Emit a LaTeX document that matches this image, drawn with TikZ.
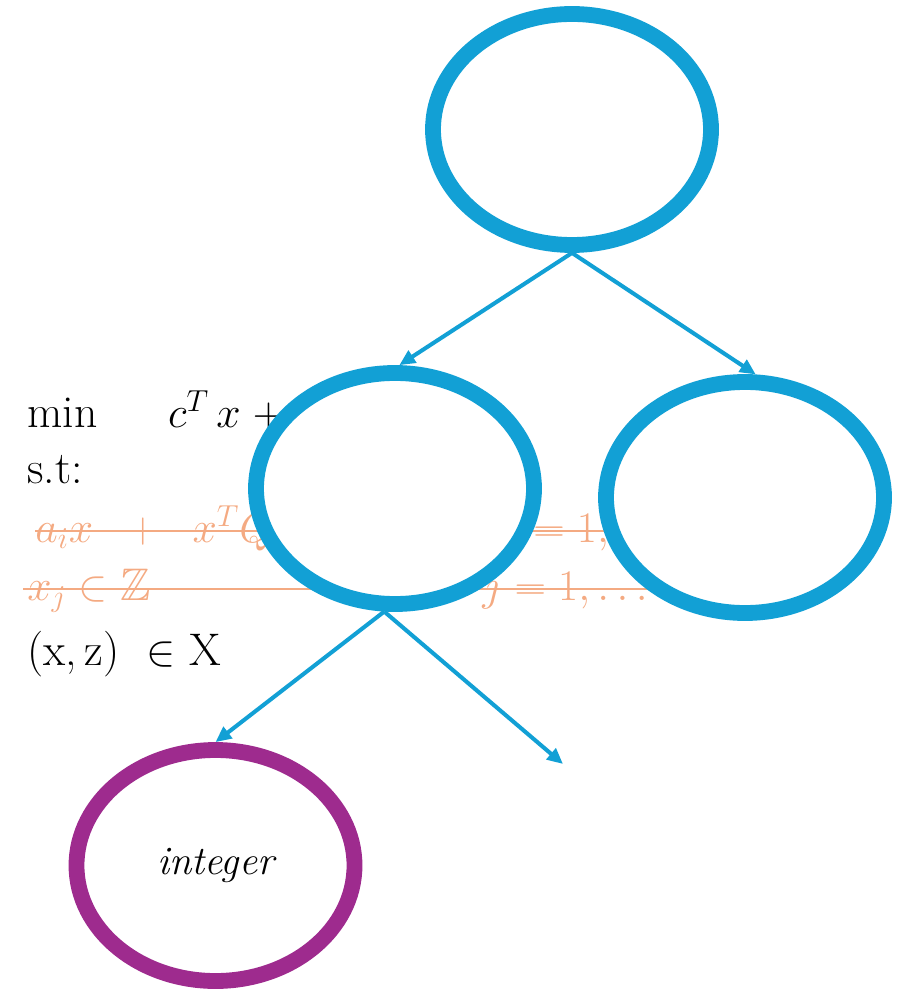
\documentclass[tikz,border=0pt]{standalone}
\usepackage{amsmath,amssymb}
\usepackage{xcolor}
\usetikzlibrary{arrows.meta,positioning,calc,shapes.geometric}
\definecolor{nodeblue}{RGB}{18,160,213}
\definecolor{leafpurple}{RGB}{158,43,142}
\definecolor{cutorange}{RGB}{244,170,130}
\tikzset{
  bnode/.style={ellipse, draw=nodeblue, line width=9pt, fill=white, minimum width=55.6mm, minimum height=46.2mm},
  leaf/.style={bnode, draw=leafpurple, font=\fontsize{23}{27}\selectfont\itshape},
  branch/.style={-{Triangle[length=9pt,width=8pt]}, draw=nodeblue, line width=2.3pt},
  formula/.style={anchor=base west, inner sep=0pt, font=\fontsize{26}{31}\selectfont},
  cut/.style={formula, text=cutorange},
  strike/.style={draw=cutorange, line width=1.2pt}
}

\begin{document}
\begin{tikzpicture}[x=0.2mm, y=0.2mm]
  \useasboundingbox (0,0) rectangle (902,-992);
  % relaxation, partly hidden behind the tree
  \node[formula] (obj) at (27,-427) {min\hspace{1.55em}$c^T\,x \;+$};
  \node[formula] (st) at (27,-483) {s.t:};
  \node[cut] (quadL) at (35,-542) {$a_i x \;\;+\;\; x^T Q$};
  \node[cut] (quadR) at (533,-542) {$= 1, \dots$};
  \node[cut] (intL) at (27,-600) {$x_j \in \mathbb{Z}$};
  \node[cut] (intR) at (482,-600) {$j = 1, \dots$};
  \draw[strike] ([yshift=6.5pt]quadL.base west) -- ([yshift=6.5pt]quadR.base east);
  \draw[strike] ([shift={(-2pt,6.5pt)}]intL.base west) -- ([yshift=6.5pt]intR.base east);
  \node[formula] (dom) at (27,-665) {(x,\,z)\hspace{0.3em} $\in$ X};

  % tree
  \node[bnode] (root) at (572,-129.5) {};
  \node[bnode] (left) at (395,-488.5) {};
  \node[bnode] (right) at (745,-497.5) {};
  \node[leaf] (int) at (215.5,-865.5) {integer};
  \coordinate (open) at (563,-764);
  \draw[branch] (root.south) -- (left.88);
  \draw[branch] (root.south) -- (right.85);
  \draw[branch] (left.265) -- (int.north);
  \draw[branch] (left.265) -- (open);
\end{tikzpicture}
\end{document}
